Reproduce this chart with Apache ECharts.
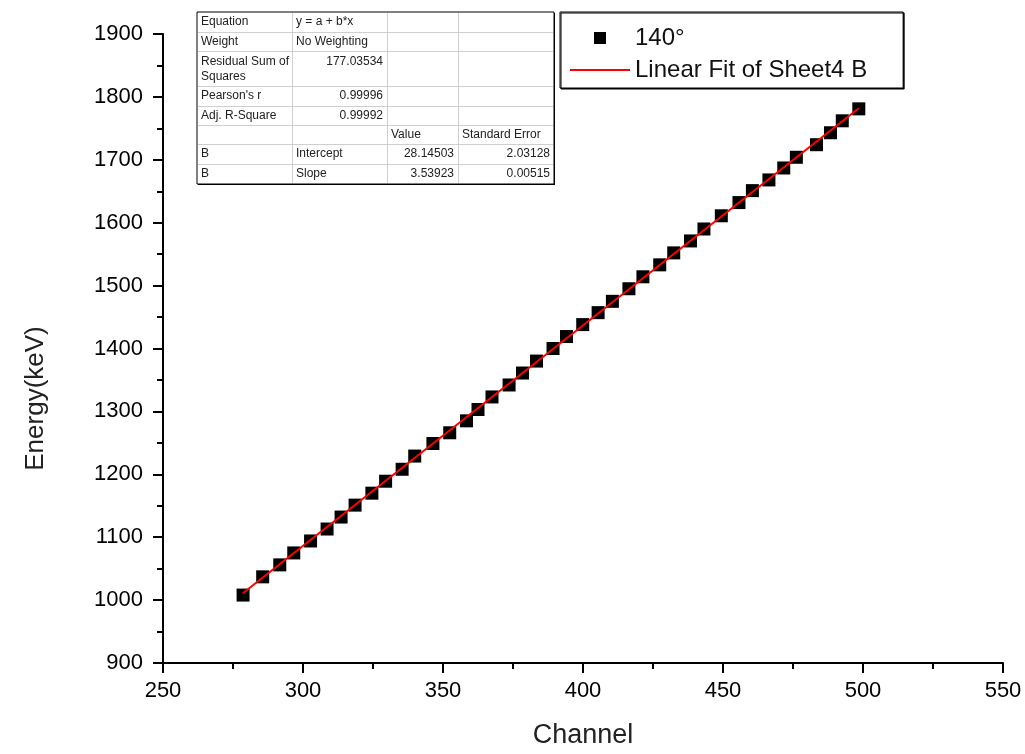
<!DOCTYPE html>
<html>
<head>
<meta charset="utf-8">
<script src="https://cdn.jsdelivr.net/npm/echarts@6/dist/echarts.min.js"></script>
<style>
  html, body { margin: 0; padding: 0; background: #fff; }
  #main { width: 1025px; height: 754px; }
</style>
</head>
<body>
<div id="main"></div>
<script>
// measured points (Channel vs Energy)
var channel = [278.6, 285.6, 291.7, 296.7, 302.7, 308.6, 313.6, 318.6, 324.6, 329.5,
  335.4, 339.9, 346.4, 352.4, 358.4, 362.5, 367.5, 373.6, 378.4, 383.4,
  389.3, 394.1, 399.9, 405.4, 410.5, 416.4, 421.4, 427.4, 432.4, 438.4,
  443.2, 449.4, 455.7, 460.5, 466.4, 471.7, 476.2, 483.4, 488.4, 492.6, 498.5];
var energy = [1008, 1037, 1056, 1075, 1094, 1113, 1132, 1151, 1170, 1189,
  1208, 1229, 1249, 1266, 1285, 1303, 1323, 1342, 1361, 1380,
  1400, 1419, 1438, 1457, 1475, 1495, 1514, 1533, 1552, 1571,
  1590, 1611, 1632, 1651, 1668, 1687, 1704, 1724, 1743, 1762, 1781];

// linear fit line end points
var fitChannel = [278.5, 498.5];
var fitEnergy = [1011, 1782];

var seriesNames = ['140°', 'Linear Fit of Sheet4 B'];

// axis ranges
var xRange = [250, 550, 50];
var yRange = [900, 1900, 100];

// fit result table
var fitTable = [
  ['Equation', 'y = a + b*x', '', ''],
  ['Weight', 'No Weighting', '', ''],
  ['Residual Sum of\nSquares', '177.03534', '', ''],
  ["Pearson's r", '0.99996', '', ''],
  ['Adj. R-Square', '0.99992', '', ''],
  ['', '', 'Value', 'Standard Error'],
  ['B', 'Intercept', '28.14503', '2.03128'],
  ['B', 'Slope', '3.53923', '0.00515']
];

var FONT = "'Liberation Sans', Arial, sans-serif";

var myChart = echarts.init(document.getElementById('main'));

// table drawn with graphic elements
var colX = [197, 292, 387, 458, 554];
var rowY = [12, 32, 51, 86, 106, 125, 144, 164, 184];
var tableEls = [];
tableEls.push({
  type: 'rect',
  shape: { x: colX[0] + 1, y: rowY[0] + 1, width: colX[4] - colX[0], height: rowY[8] - rowY[0] },
  style: { fill: '#000' }
});
tableEls.push({
  type: 'rect',
  shape: { x: colX[0], y: rowY[0], width: colX[4] - colX[0], height: rowY[8] - rowY[0] },
  style: { fill: '#fff', stroke: '#000', lineWidth: 1 }
});
for (var r = 1; r < rowY.length - 1; r++) {
  tableEls.push({
    type: 'line',
    shape: { x1: colX[0] + 1, y1: rowY[r] + 0.5, x2: colX[4] - 1, y2: rowY[r] + 0.5 },
    style: { stroke: '#cfcfcf', lineWidth: 1 }
  });
}
for (var c = 1; c < colX.length - 1; c++) {
  tableEls.push({
    type: 'line',
    shape: { x1: colX[c] + 0.5, y1: rowY[0] + 1, x2: colX[c] + 0.5, y2: rowY[8] - 1 },
    style: { stroke: '#cfcfcf', lineWidth: 1 }
  });
}
fitTable.forEach(function (row, ri) {
  row.forEach(function (txt, ci) {
    if (!txt) return;
    var isNum = /^[\d.]+$/.test(txt);
    var multi = ri === 2;
    tableEls.push({
      type: 'text',
      style: {
        text: txt,
        x: isNum ? colX[ci + 1] - 4 : colX[ci] + 4,
        y: multi ? rowY[ri] + 3 : (rowY[ri] + rowY[ri + 1]) / 2,
        textAlign: isNum ? 'right' : 'left',
        align: isNum ? 'right' : 'left',
        textVerticalAlign: multi ? 'top' : 'middle',
        verticalAlign: multi ? 'top' : 'middle',
        font: '12px ' + FONT,
        lineHeight: 15,
        fill: '#222'
      }
    });
  });
});

function plain(v) { return String(v); }

var option = {
  animation: false,
  backgroundColor: '#fff',
  grid: { left: 163, right: 22, top: 34, bottom: 90 },
  legend: {
    orient: 'vertical',
    left: 560,
    top: 12,
    itemWidth: 60,
    itemHeight: 12,
    itemGap: 8,
    padding: [14, 36, 6, 10],
    backgroundColor: '#fff',
    borderColor: '#000',
    borderWidth: 1,
    shadowColor: '#000',
    shadowOffsetX: 1,
    shadowOffsetY: 1,
    textStyle: { fontFamily: FONT, fontSize: 24, color: '#111' },
    data: [
      { name: seriesNames[0], icon: 'path://M0,0H10V10H0Z' },
      { name: seriesNames[1], icon: 'path://M0,0H60V2H0Z' }
    ]
  },
  xAxis: {
    type: 'value',
    min: xRange[0], max: xRange[1], interval: xRange[2],
    name: 'Channel',
    nameLocation: 'middle',
    nameGap: 59,
    nameTextStyle: { fontFamily: FONT, fontSize: 27, color: '#222' },
    axisLine: { lineStyle: { color: '#000', width: 2 } },
    axisTick: { length: 10, lineStyle: { color: '#000', width: 2 } },
    minorTick: { show: true, splitNumber: 2, length: 6, lineStyle: { color: '#000', width: 2 } },
    axisLabel: { margin: 17, fontFamily: FONT, fontSize: 22, color: '#000', formatter: plain },
    splitLine: { show: false }
  },
  yAxis: {
    type: 'value',
    min: yRange[0], max: yRange[1], interval: yRange[2],
    name: 'Energy(keV)',
    nameLocation: 'middle',
    nameGap: 114,
    nameTextStyle: { fontFamily: FONT, fontSize: 26, color: '#222', padding: [0, 100, 0, 0] },
    axisLine: { show: true, lineStyle: { color: '#000', width: 2 } },
    axisTick: { show: true, length: 10, lineStyle: { color: '#000', width: 2 } },
    minorTick: { show: true, splitNumber: 2, length: 6, lineStyle: { color: '#000', width: 2 } },
    axisLabel: { margin: 20, fontFamily: FONT, fontSize: 22, color: '#000', formatter: plain },
    splitLine: { show: false }
  },
  graphic: [{ type: 'group', elements: tableEls }],
  series: [
    {
      name: seriesNames[0],
      type: 'scatter',
      symbol: 'rect',
      symbolSize: 13,
      itemStyle: { color: '#000', opacity: 1 },
      data: channel.map(function (x, i) { return [x, energy[i]]; })
    },
    {
      name: seriesNames[1],
      type: 'line',
      symbol: 'none',
      z: 5,
      lineStyle: { color: '#ff0000', width: 2 },
      itemStyle: { color: '#ff0000' },
      data: fitChannel.map(function (x, i) { return [x, fitEnergy[i]]; })
    }
  ]
};
myChart.setOption(option);
</script>
</body>
</html>
